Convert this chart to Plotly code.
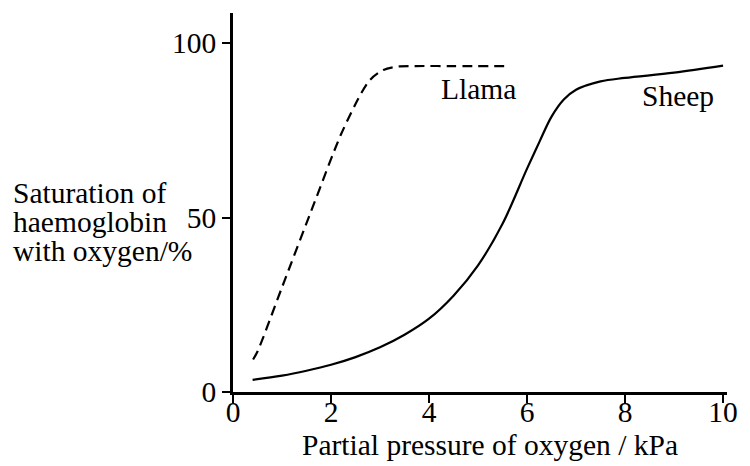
import plotly.graph_objects as go

# Data
sheep_x = [0.4, 1.0, 1.5, 2.0, 2.5, 3.0, 3.5, 4.0, 4.5, 5.0, 5.5, 6.0, 6.25, 6.5, 6.75, 7.0, 7.5, 8.0, 9.0, 10.0]
sheep_y = [3.5, 4.7, 6.1, 7.8, 10.0, 12.8, 16.4, 21.0, 27.6, 36.3, 48.2, 64.0, 71.6, 78.9, 83.8, 86.6, 89.0, 90.0, 91.5, 93.5]

llama_x = [0.41, 0.5, 1.0, 1.67, 2.2, 2.6, 2.8, 3.07, 3.4, 3.73, 4.5, 5.65]
llama_y = [9.3, 11.6, 30.0, 54.6, 73.7, 85.2, 89.5, 92.3, 93.3, 93.4, 93.4, 93.4]

x_ticks = [0, 2, 4, 6, 8, 10]
y_ticks = [0, 50, 100]

y_title_lines = ["Saturation of", "haemoglobin", "with oxygen/%"]
x_title = "Partial pressure of oxygen / kPa"

FONT = "Liberation Serif"
FS = 29.5

fig = go.Figure()
fig.add_trace(go.Scatter(x=llama_x, y=llama_y, mode="lines",
                         line=dict(color="black", width=2.2, dash="10px,6px", shape="spline", smoothing=0.8),
                         showlegend=False, hoverinfo="skip"))
fig.add_trace(go.Scatter(x=sheep_x, y=sheep_y, mode="lines",
                         line=dict(color="black", width=2.2, shape="spline", smoothing=1.0),
                         showlegend=False, hoverinfo="skip"))

txt = dict(family=FONT, size=FS, color="black")
annotations = [
    dict(text="Llama", x=5.0, y=86.7, xref="x", yref="y", xanchor="center", yanchor="middle",
         showarrow=False, font=txt),
    dict(text="Sheep", x=9.08, y=84.8, xref="x", yref="y", xanchor="center", yanchor="middle",
         showarrow=False, font=txt),
    dict(text=x_title, x=0.5194, y=-0.1398, xref="paper", yref="paper", xanchor="center", yanchor="middle",
         showarrow=False, font=txt),
]
for line, yc in zip(y_title_lines, [0.5259, 0.4494, 0.3729]):
    annotations.append(dict(text=line, x=-0.4499, y=yc, xref="paper", yref="paper", xanchor="left",
                            yanchor="middle", showarrow=False, font=txt))

fig.update_layout(
    width=750, height=466,
    margin=dict(l=233, r=13, t=13, b=74),
    paper_bgcolor="white", plot_bgcolor="white",
    font=txt,
    annotations=annotations,
    xaxis=dict(range=[0, 10.08], tickvals=x_ticks, ticktext=[str(v) for v in x_ticks],
               showgrid=False, zeroline=False, showline=True, linecolor="black", linewidth=2.5,
               ticks="outside", ticklen=8, tickwidth=2, tickcolor="black",
               ticklabelstandoff=-16, tickfont=txt),
    yaxis=dict(range=[0, 108.6], tickvals=y_ticks, ticktext=[str(v) for v in y_ticks],
               showgrid=False, zeroline=False, showline=True, linecolor="black", linewidth=2.5,
               ticks="outside", ticklen=8, tickwidth=2, tickcolor="black",
               tickfont=txt),
)

fig.write_html("out.html")
